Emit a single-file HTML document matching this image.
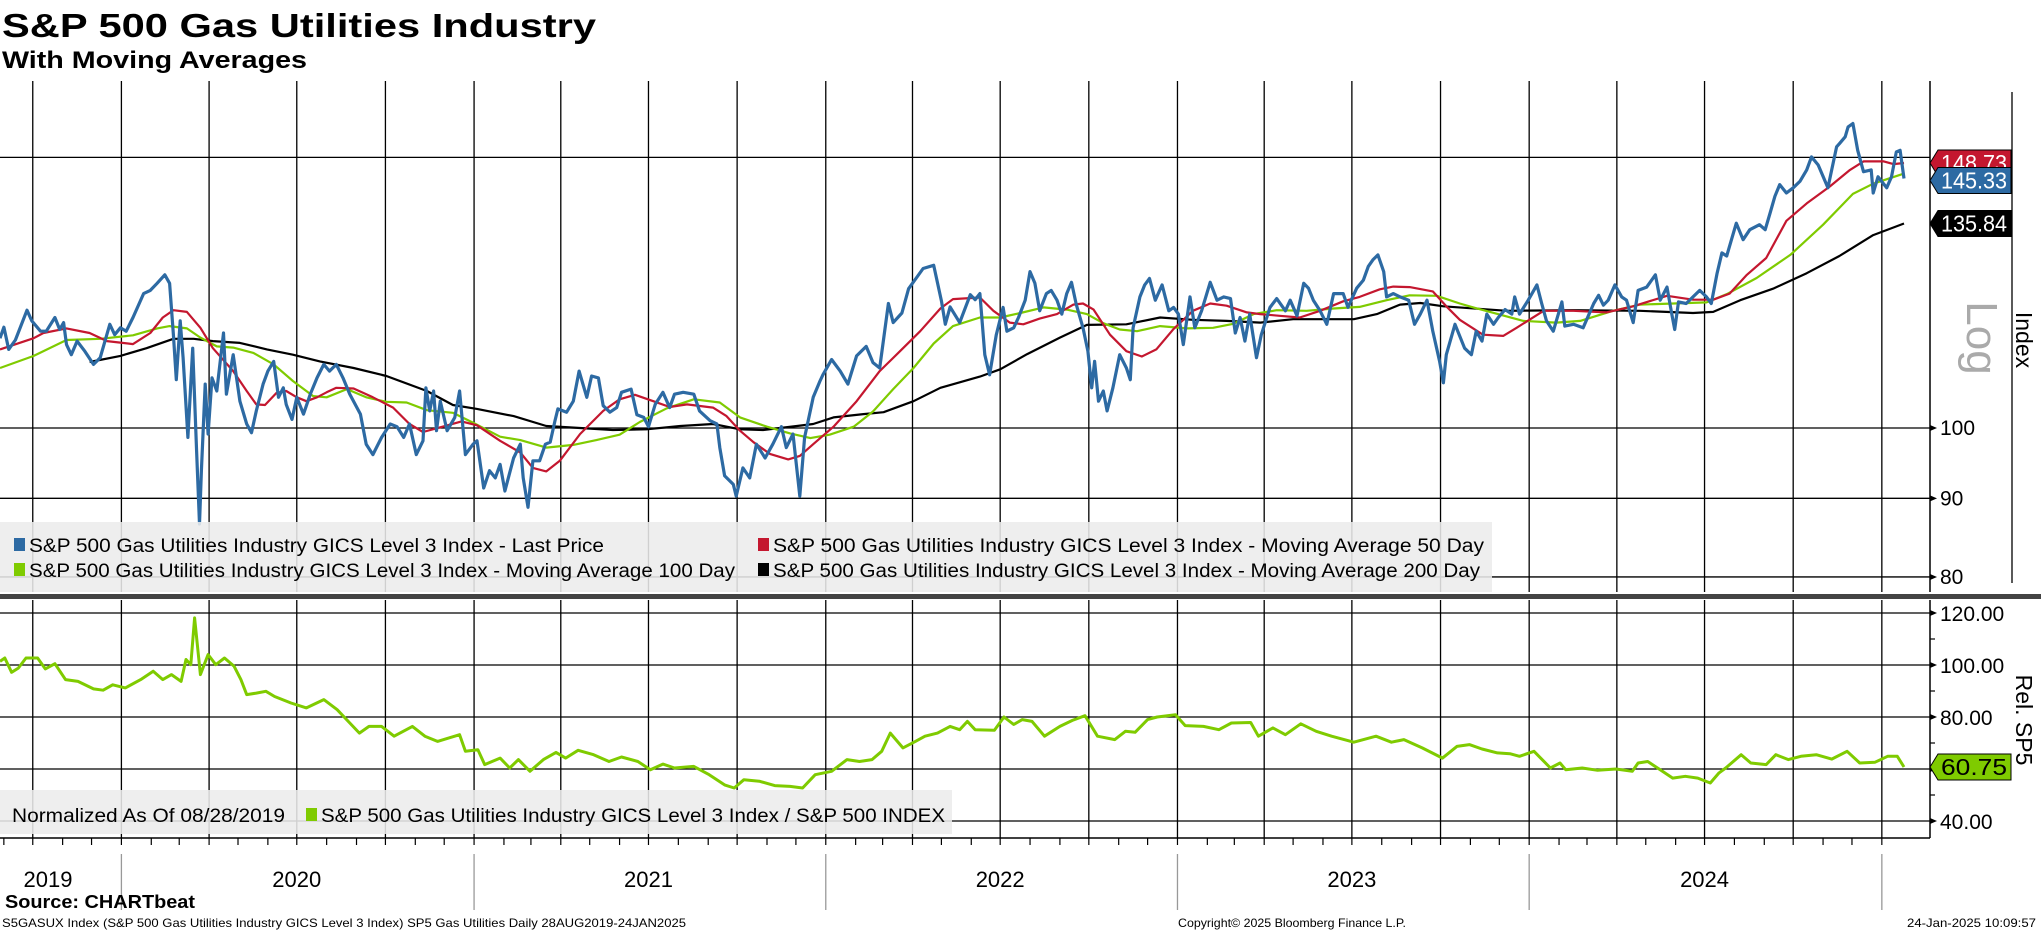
<!DOCTYPE html>
<html><head><meta charset="utf-8"><title>S&amp;P 500 Gas Utilities Industry</title>
<style>
html,body{margin:0;padding:0;background:#fff;}
svg{display:block;font-family:"Liberation Sans",sans-serif;}
</style></head>
<body>
<svg id="chart" width="2041" height="932" viewBox="0 0 2041 932" xmlns="http://www.w3.org/2000/svg">
  <text x="2" y="37" font-size="33" font-weight="bold" textLength="594" lengthAdjust="spacingAndGlyphs">S&amp;P 500 Gas Utilities Industry</text>
  <text x="2" y="68" font-size="24" font-weight="bold" textLength="305" lengthAdjust="spacingAndGlyphs">With Moving Averages</text>
  <g id="grid"></g>
  <g id="series"></g>
  <g id="legends"></g>
  <g id="axes"></g>
  <text x="5" y="908" font-size="18" font-weight="bold" textLength="190" lengthAdjust="spacingAndGlyphs">Source: CHARTbeat</text>
  <text x="2" y="927" font-size="12" textLength="684" lengthAdjust="spacingAndGlyphs">S5GASUX Index (S&amp;P 500 Gas Utilities Industry GICS Level 3 Index) SP5 Gas Utilities  Daily 28AUG2019-24JAN2025</text>
  <text x="1178" y="927" font-size="12" textLength="228" lengthAdjust="spacingAndGlyphs">Copyright© 2025 Bloomberg Finance L.P.</text>
  <text x="1907" y="927" font-size="12" textLength="129" lengthAdjust="spacingAndGlyphs">24-Jan-2025 10:09:57</text>
</svg>
<script>
// ---- data: [day offset from 2019-08-28, value] ----
const startDate = "2019-08-28";
const totalDays = 1976;
const lastPrice = [[0,114.4],[4,116.3],[9,112.5],[16,114.1],[28,119.3],[33,117.4],[42,115.6],[48,115.6],[57,118.0],[62,115.9],[66,117.1],[69,113.3],[74,111.6],[80,113.9],[88,112.2],[97,110.0],[104,111.1],[114,116.8],[119,115.0],[125,116.2],[131,115.6],[138,118.0],[149,122.3],[156,122.9],[163,124.2],[171,125.8],[176,124.2],[180,115.0],[183,107.5],[187,117.4],[190,111.1],[195,98.6],[200,112.7],[204,96.6],[207,86.6],[209,93.8],[213,106.8],[216,99.1],[220,107.8],[225,105.7],[232,115.3],[235,105.2],[242,111.6],[249,104.1],[256,100.6],[261,99.3],[266,102.6],[273,106.8],[278,108.9],[284,110.5],[289,104.7],[294,106.2],[297,103.6],[303,101.3],[308,104.7],[315,102.1],[322,105.2],[329,107.8],[336,110.0],[342,108.9],[349,110.0],[356,107.8],[363,105.2],[374,102.1],[380,97.6],[387,96.1],[396,98.6],[405,100.6],[412,100.2],[419,98.6],[425,100.6],[432,96.1],[439,98.1],[442,106.2],[446,102.6],[450,105.7],[453,99.6],[457,104.1],[464,99.6],[472,101.6],[477,105.7],[483,96.1],[491,97.6],[495,98.1],[502,91.4],[508,93.8],[514,92.8],[519,94.7],
[524,91.0],[533,95.6],[540,97.6],[543,92.8],[548,88.8],[553,95.2],[560,95.2],[566,97.6],[571,97.9],[576,101.1],[579,102.9],[588,102.4],[595,104.1],[601,108.9],[609,104.7],[614,108.1],[621,107.8],[626,103.4],[633,102.4],[640,103.1],[645,105.5],[655,106.0],[661,102.0],[668,101.6],[673,100.2],[680,103.6],[688,105.5],[695,103.1],[700,105.2],[709,105.5],[720,105.2],[726,102.6],[737,101.1],[744,100.6],[747,97.1],[752,93.1],[761,91.9],[764,90.3],[771,94.2],[778,92.8],[785,97.6],[794,95.6],[802,97.6],[811,100.2],[816,97.1],[823,99.1],[830,90.3],[835,98.6],[844,104.7],[851,107.3],[854,108.3],[863,110.8],[872,108.9],[880,106.8],[889,111.4],[899,113.0],[906,110.3],[913,109.4],[922,120.5],[927,117.1],[936,118.8],[943,123.2],[951,125.2],[958,127.0],[969,127.6],[977,121.0],[981,116.8],[986,119.9],[996,117.1],[1007,122.1],
[1012,121.2],[1017,122.3],[1022,111.6],[1027,108.3],[1034,115.0],[1041,119.8],[1045,115.6],[1052,116.2],[1057,118.0],[1064,121.1],[1069,126.4],[1074,124.2],[1079,119.2],[1086,122.3],[1091,122.9],[1097,121.1],[1102,118.6],[1107,122.3],[1112,124.4],[1117,120.3],[1124,116.2],[1129,112.2],[1133,106.2],[1136,110.5],[1140,104.1],[1145,105.7],[1149,102.6],[1155,106.2],[1162,111.6],[1169,109.4],[1173,107.5],[1176,116.2],[1183,121.7],[1188,123.9],[1193,125.1],[1199,121.1],[1206,123.9],[1213,119.2],[1218,119.8],[1223,118.6],[1228,113.3],[1235,121.7],[1240,116.2],[1247,119.2],[1256,124.4],[1263,121.1],[1270,121.7],[1277,121.4],[1282,115.3],[1287,118.0],[1292,113.9],[1297,118.6],[1304,111.1],[1309,115.0],[1318,119.8],[1325,121.4],[1334,119.2],[1339,121.1],[1346,118.3],[1353,124.2],[1358,123.3],[1363,121.1],[1370,119.2],[1377,116.8],[1384,122.3],[1394,122.3],[1399,119.8],[1408,123.3],[1415,124.8],[1420,127.4],[1425,128.7],[1430,129.6],[1436,126.4],[1439,121.7],[1446,122.3],[1453,121.7],[1462,121.1],[1468,116.8],[1474,118.6],[1481,121.1],[1487,115.6],[1494,110.5],[1498,107.0],
[1501,111.6],[1510,116.8],[1520,112.7],[1527,111.6],[1532,115.6],[1538,113.9],[1543,118.6],[1550,116.8],[1555,118.0],[1562,119.4],[1569,118.6],[1572,121.7],[1577,118.6],[1586,121.1],[1595,123.9],[1600,120.5],[1605,117.4],[1612,115.6],[1621,120.8],[1624,116.5],[1633,116.8],[1643,116.2],[1654,120.5],[1659,122.0],[1664,120.2],[1669,121.1],[1676,123.9],[1683,121.7],[1688,121.1],[1695,117.1],[1700,122.9],[1709,123.5],[1718,125.8],[1723,121.1],[1730,123.5],[1735,118.6],[1738,115.9],[1742,120.8],[1750,120.5],[1757,121.7],[1764,122.9],[1771,121.7],[1776,120.5],[1782,126.1],[1787,130.0],[1792,129.4],[1799,133.9],[1802,135.9],[1809,132.6],[1816,134.6],[1826,135.6],[1832,134.6],[1837,138.0],[1842,141.5],[1847,144.0],[1854,142.2],[1861,143.3],[1868,144.7],[1875,147.2],[1880,150.1],[1887,148.3],[1897,143.3],[1906,152.4],[1909,153.1],[1915,154.7],[1918,157.0],[1923,157.8],[1928,151.6],[1934,146.8],[1942,147.2],[1944,142.2],[1949,145.7],[1958,143.3],[1963,145.7],[1968,151.2],[1972,151.6],[1976,145.33]];
const ma50 = [[0,112.5],[35,114.4],[45,115.3],[69,116.1],[93,115.3],[111,113.9],[138,113.4],[156,115.3],[169,118.0],[180,119.3],[194,119.0],[208,116.2],[221,112.7],[242,108.9],[256,105.7],[266,103.6],[275,103.5],[287,105.4],[297,105.7],[308,104.7],[318,104.1],[329,104.7],[339,105.5],[349,106.2],[367,106.1],[387,104.7],[408,103.1],[425,100.6],[439,99.4],[457,100.1],[479,101.0],[495,100.4],[519,98.1],[540,96.4],[553,94.2],[567,93.7],[581,95.2],[602,99.1],[626,102.6],[643,104.4],[659,105.1],[678,104.1],[695,103.2],[713,103.6],[740,103.1],[754,101.8],[768,99.6],[782,97.9],[799,96.2],[818,95.4],[830,95.9],[844,97.6],[865,100.2],[889,104.1],[913,108.9],[934,112.2],[955,115.6],[976,119.6],[989,121.3],[1017,121.6],[1031,119.2],[1048,117.1],[1062,116.8],[1079,117.8],[1097,118.6],[1114,120.3],[1124,120.5],[1135,119.4],[1152,115.0],[1169,112.2],[1185,111.3],[1200,112.5],[1218,116.0],[1238,119.2],[1256,120.5],[1273,120.1],[1294,118.9],[1308,118.6],[1328,118.3],[1349,118.0],[1370,119.2],[1394,120.9],[1411,121.7],[1432,123.1],[1446,123.6],[1463,123.5],[1487,122.7],[1501,120.0],[1515,117.6],[1539,115.0],[1560,114.8],[1574,116.2],[1602,119.2],[1633,119.2],[1667,118.9],[1695,120.0],[1730,121.9],[1757,121.2],[1778,121.2],[1795,122.3],[1813,125.8],[1833,129.0],[1854,136.4],[1875,140.0],[1899,143.6],[1920,147.2],[1934,149.1],[1955,149.1],[1965,148.5],[1976,148.73]];
const ma100 = [[0,109.4],[35,111.4],[69,114.1],[104,114.3],[138,114.9],[163,116.1],[176,116.5],[194,116.1],[208,114.5],[225,113.0],[242,112.8],[263,111.9],[284,110.0],[304,107.3],[325,104.9],[339,104.7],[360,106.0],[380,104.7],[401,104.0],[422,103.9],[443,102.7],[470,102.3],[491,100.8],[519,98.7],[540,98.2],[567,97.1],[595,97.5],[619,98.2],[643,99.0],[664,100.9],[692,103.0],[720,104.4],[747,103.9],[768,101.6],[796,100.2],[820,99.2],[841,98.5],[861,99.0],[886,100.2],[906,102.5],[927,106.0],[948,109.4],[969,113.5],[989,116.5],[1017,118.0],[1038,118.0],[1059,118.8],[1083,119.8],[1107,119.4],[1128,118.6],[1145,117.0],[1162,115.9],[1180,115.6],[1204,116.5],[1232,116.1],[1259,116.2],[1280,116.9],[1301,118.6],[1325,119.3],[1356,119.2],[1384,119.6],[1411,119.9],[1439,121.1],[1463,122.0],[1491,121.9],[1515,120.5],[1529,119.8],[1581,117.4],[1615,117.1],[1640,117.4],[1674,119.2],[1702,120.3],[1737,120.5],[1771,120.7],[1792,122.2],[1823,125.2],[1858,129.6],[1892,135.6],[1923,142.0],[1944,144.2],[1976,146.4]];
const ma200 = [[93,110.4],[125,111.4],[152,112.7],[180,114.3],[201,114.3],[221,113.9],[249,113.6],[277,112.5],[304,111.6],[332,110.5],[367,109.4],[401,108.1],[443,105.7],[470,103.5],[495,102.9],[533,101.8],[567,100.3],[602,100.0],[636,99.7],[671,99.8],[706,100.3],[740,100.6],[768,99.8],[792,99.7],[827,100.3],[844,100.6],[865,101.6],[896,102.1],[917,102.4],[948,104.1],[976,106.2],[1017,108.0],[1038,109.2],[1066,111.7],[1100,114.5],[1128,116.7],[1169,116.8],[1204,118.0],[1238,117.6],[1273,117.4],[1308,117.1],[1342,117.7],[1405,117.7],[1429,118.6],[1453,120.3],[1474,120.6],[1498,120.0],[1564,119.2],[1633,119.3],[1702,119.2],[1757,118.8],[1778,119.0],[1806,121.1],[1840,123.2],[1875,126.1],[1909,129.4],[1944,133.5],[1976,135.84]];
const relSP5 = [[0,101.4],[5,102.7],[12,97.2],[19,98.8],[27,102.7],[39,102.7],[47,98.5],[57,100.5],[68,94.4],[81,93.7],[97,90.8],[107,90.3],[117,92.4],[130,91.2],[146,94.4],[159,97.6],[169,94.4],[178,96.3],[188,93.7],[193,102.1],[198,100.1],[202,118.1],[208,96.3],[216,104.0],[224,100.1],[233,102.7],[243,99.5],[250,94.4],[256,88.6],[266,89.2],[276,89.9],[285,87.9],[302,85.4],[318,83.5],[336,86.7],[350,82.8],[363,77.7],[373,73.8],[383,76.4],[396,76.4],[409,72.6],[428,76.4],[441,72.6],[454,70.6],[477,73.2],[483,66.8],[496,67.4],[503,61.7],[519,64.2],[529,60.4],[538,63.6],[550,59.1],[564,63.6],[577,66.4],[587,64.2],[600,67.2],[616,65.5],[632,62.9],[645,64.6],[662,62.9],[675,59.7],[688,61.9],[700,60.4],[720,61.0],[736,57.8],[752,53.9],[762,52.7],[772,55.9],[788,55.3],[804,53.6],[820,53.3],[833,52.7],[846,57.8],[863,59.1],[879,63.6],[892,62.9],[905,63.6],[915,66.8],[924,73.8],[937,68.1],[950,70.6],[960,72.6],[973,73.8],[986,76.4],[996,75.1],[1004,78.3],[1012,75.1],[1032,74.9],[1042,80.0],[1052,77.1],[1061,79.0],[1071,78.3],[1084,72.6],[1100,76.4],[1113,78.7],[1126,80.5],[1139,72.6],[1157,71.3],[1168,74.5],[1178,74.1],[1191,79.0],[1201,80.0],[1220,80.9],[1230,76.7],[1249,76.4],[1265,75.1],[1278,77.7],[1298,77.9],[1306,72.6],[1321,75.8],[1334,73.2],[1350,77.4],[1366,74.5],[1382,72.6],[1405,70.3],[1428,72.6],[1444,70.3],[1457,71.3],[1476,68.1],[1497,64.2],[1512,68.7],[1525,69.4],[1538,67.7],[1554,66.2],[1567,65.9],[1577,64.9],[1592,66.8],[1609,60.4],[1619,62.3],[1625,59.7],[1642,60.4],[1658,59.5],[1677,60.0],[1694,59.1],[1700,62.3],[1710,62.9],[1723,59.7],[1736,56.5],[1749,57.2],[1762,56.5],[1775,54.6],[1784,58.5],[1791,60.4],[1807,65.5],[1817,62.3],[1833,61.7],[1843,65.5],[1856,63.6],[1869,64.9],[1885,65.5],[1901,63.8],[1917,66.8],[1930,62.3],[1946,62.6],[1959,64.9],[1969,64.9],[1976,60.75]];
const topTicks = [100, 90, 80];
const topGridVals = [150, 100, 90, 80];
const relTicks = [120, 100, 80, 60, 40];
const relMinorTicks = [110, 90, 70, 50];
const yearLabels = ["2019","2020","2021","2022","2023","2024"];

// ---- geometry ----
const NS = "http://www.w3.org/2000/svg";
const PLOT_R = 1930, TOP_T = 81, TOP_B = 592, BOT_T = 600, BOT_B = 838;
const C = {blue:"#2d6aa3", red:"#c4172f", green:"#7fcb00", black:"#000"};
const t0 = Date.UTC(2019,7,28);
function dayOf(y,m,d){ return (Date.UTC(y,m,d)-t0)/86400000; }
function xS(d){ return d*1904/totalDays; }
function yTop(v){ return 428 - 1537*Math.log10(v/100); }
function yBot(v){ return 665 - (v-100)*2.6; }
function mk(tag, attrs, parent){
  const e = document.createElementNS(NS, tag);
  for (const k in attrs) e.setAttribute(k, attrs[k]);
  parent.appendChild(e); return e;
}
const svg = document.getElementById('chart');
const grid = document.getElementById('grid');
const series = document.getElementById('series');
const legends = document.getElementById('legends');
const axes = document.getElementById('axes');

const defs = mk('defs', {}, svg);
const cp1 = mk('clipPath', {id:'clipTop'}, defs); mk('rect', {x:0,y:TOP_T,width:PLOT_R,height:TOP_B-TOP_T}, cp1);
const cp2 = mk('clipPath', {id:'clipBot'}, defs); mk('rect', {x:0,y:BOT_T,width:PLOT_R,height:BOT_B-BOT_T}, cp2);

for (let y=2019; y<=2025; y++) for (let m=0; m<12; m+=3) {
  const d = dayOf(y,m,1);
  if (d<=0 || d>totalDays+10) continue;
  const x = xS(d);
  const l1 = mk('line', {x1:x,x2:x,y1:TOP_T,y2:TOP_B,stroke:'#000','stroke-width':1.3}, grid);
  
  
  const l2 = mk('line', {x1:x,x2:x,y1:BOT_T,y2:BOT_B,stroke:'#000','stroke-width':1.3}, grid);
  
  
}
topGridVals.forEach(v => {
  const y = yTop(v);
  const l = mk('line', {x1:0,x2:PLOT_R,y1:y,y2:y,stroke:'#000','stroke-width':1.3}, grid);
  
  
});
relTicks.forEach(v => {
  const y = yBot(v);
  const l = mk('line', {x1:0,x2:PLOT_R,y1:y,y2:y,stroke:'#000','stroke-width':1.3}, grid);
  
  
});

const lg1 = mk('rect', {x:0,y:522,width:1492,height:70,fill:'rgba(236,236,236,0.88)'}, legends);


const lg2 = mk('rect', {x:0,y:790,width:952,height:44,fill:'rgba(236,236,236,0.88)'}, legends);



function pathFrom(arr, yf){ return arr.map((p,i)=>(i?'L':'M')+xS(p[0]).toFixed(1)+','+yf(p[1]).toFixed(1)).join(''); }
const gTop = mk('g', {'clip-path':'url(#clipTop)'}, series);
const s200 = mk('path', {d:pathFrom(ma200,yTop),fill:'none',stroke:C.black,'stroke-width':2.2,'stroke-linejoin':'round'}, gTop);


const s100 = mk('path', {d:pathFrom(ma100,yTop),fill:'none',stroke:C.green,'stroke-width':2.2,'stroke-linejoin':'round'}, gTop);


const s50 = mk('path', {d:pathFrom(ma50,yTop),fill:'none',stroke:C.red,'stroke-width':2.2,'stroke-linejoin':'round'}, gTop);


const sp = mk('path', {d:pathFrom(lastPrice,yTop),fill:'none',stroke:C.blue,'stroke-width':3.2,'stroke-linejoin':'round'}, gTop);


const gBot = mk('g', {'clip-path':'url(#clipBot)'}, series);
const sr = mk('path', {d:pathFrom(relSP5,yBot),fill:'none',stroke:C.green,'stroke-width':3,'stroke-linejoin':'round'}, gBot);



const base = "S&P 500 Gas Utilities Industry GICS Level 3 Index";
const legItems = [
  {c:C.blue, t:base+" - Last Price", x:17, y:545, w:575, n:'legend-last-price'},
  {c:C.red, t:base+" - Moving Average 50 Day", x:761, y:545, w:711, n:'legend-ma50'},
  {c:C.green, t:base+" - Moving Average 100 Day", x:17, y:570, w:706, n:'legend-ma100'},
  {c:C.black, t:base+" - Moving Average 200 Day", x:761, y:570, w:707, n:'legend-ma200'}
];
legItems.forEach(it => {
  const g = mk('g', {}, legends);
  
  
  mk('rect', {x:it.x-3,y:it.y-7,width:11,height:13,fill:it.c}, g);
  const t = mk('text', {x:it.x+12,y:it.y+7,'font-size':19,textLength:it.w,lengthAdjust:'spacingAndGlyphs'}, g);
  t.textContent = it.t;
});
const nt = mk('text', {x:12,y:822,'font-size':19,textLength:273,lengthAdjust:'spacingAndGlyphs'}, legends);
nt.textContent = "Normalized As Of 08/28/2019";


const rg = mk('g', {}, legends);


mk('rect', {x:306,y:808,width:11,height:13,fill:C.green}, rg);
const rt = mk('text', {x:321,y:822,'font-size':19,textLength:624,lengthAdjust:'spacingAndGlyphs'}, rg);
rt.textContent = base+" / S&P 500 INDEX";

const sep = mk('rect', {x:0,y:594,width:2041,height:5,fill:'#444'}, axes);



const ra1 = mk('line', {x1:PLOT_R,x2:PLOT_R,y1:TOP_T,y2:TOP_B,stroke:'#000','stroke-width':1.5}, axes);


const ra2 = mk('line', {x1:PLOT_R,x2:PLOT_R,y1:BOT_T,y2:BOT_B,stroke:'#000','stroke-width':1.5}, axes);


const ax3 = mk('line', {x1:2012,x2:2012,y1:92,y2:583,stroke:'#000','stroke-width':1.3}, axes);


const bx = mk('line', {x1:0,x2:PLOT_R,y1:BOT_B,y2:BOT_B,stroke:'#000','stroke-width':1.5}, axes);



topTicks.forEach(v => {
  const y = yTop(v);
  const a = mk('path', {d:`M${PLOT_R},${y-3}L${PLOT_R+7},${y}L${PLOT_R},${y+3}Z`,fill:'#000'}, axes);
  
  
  const t = mk('text', {x:1940,y:y+7,'font-size':21}, axes);
  t.textContent = String(v);
  
  
});
relTicks.forEach(v => {
  const y = yBot(v);
  const a = mk('path', {d:`M${PLOT_R},${y-3}L${PLOT_R+7},${y}L${PLOT_R},${y+3}Z`,fill:'#000'}, axes);
  
  
  const t = mk('text', {x:1940,y:y+8,'font-size':21}, axes);
  t.textContent = v.toFixed(2);
  
  
});
relMinorTicks.forEach(v => {
  const y = yBot(v);
  const l = mk('line', {x1:PLOT_R,x2:PLOT_R+5,y1:y,y2:y,stroke:'#000','stroke-width':1.2}, axes);
  
  
});

function vtext(txt, x, y, size, fill, name){
  const t = mk('text', {x:x,y:y,'font-size':size,fill:fill,'text-anchor':'middle',transform:`rotate(90 ${x} ${y})`}, axes);
  t.textContent = txt;
  
  
}
vtext("Index", 2016, 340, 23, '#000', 'top-axis-title');
vtext("Log", 1967, 338, 44, '#aaa', 'log-scale-indicator');
vtext("Rel. SP5", 2016, 720, 23, '#000', 'bottom-axis-title');

function valLabel(v, yf, fill, color, name, size){
  const y = yf(v);
  const h = 26, x0 = PLOT_R, x1 = 2011;
  const g = mk('g', {}, axes);
  
  
  mk('path', {d:`M${x0},${y}L${x0+8},${y-h/2}L${x1},${y-h/2}L${x1},${y+h/2}L${x0+8},${y+h/2}Z`,fill:fill,stroke:'#000','stroke-width':1}, g);
  const t = mk('text', {x:x0+11,y:y+8,'font-size':size,fill:color,textLength:66,lengthAdjust:'spacingAndGlyphs'}, g);
  t.textContent = v.toFixed(2);
}
const lastOf = a => a[a.length-1][1];
valLabel(lastOf(ma200), v=>yTop(v), C.black, '#fff', 'ma200-value-label', 23);
valLabel(lastOf(ma50), v=>yTop(v), C.red, '#fff', 'ma50-value-label', 23);
valLabel(lastOf(lastPrice), v=>yTop(v)+2, C.blue, '#fff', 'last-price-value-label', 23);
valLabel(lastOf(relSP5), v=>yBot(v), C.green, '#000', 'relative-value-label', 23);

for (let y=2019; y<=2025; y++) for (let m=0; m<12; m++) {
  const d = dayOf(y,m,1);
  if (d<=0 || d>totalDays) continue;
  const x = xS(d);
  const l = mk('line', {x1:x,x2:x,y1:BOT_B,y2:BOT_B+7,stroke:'#000','stroke-width':1.2}, axes);
  
  
  if (m===0) {
    const s = mk('line', {x1:x,x2:x,y1:BOT_B+16,y2:BOT_B+72,stroke:'#999','stroke-width':1.3}, axes);
    
    
  }
}
yearLabels.forEach((yl) => {
  const yr = +yl;
  const cx = yr===2019 ? 48 : xS(dayOf(yr,6,1));
  const t = mk('text', {x:cx,y:887,'font-size':22,'text-anchor':'middle'}, axes);
  t.textContent = yl;
  
  
});
</script>
</body></html>
